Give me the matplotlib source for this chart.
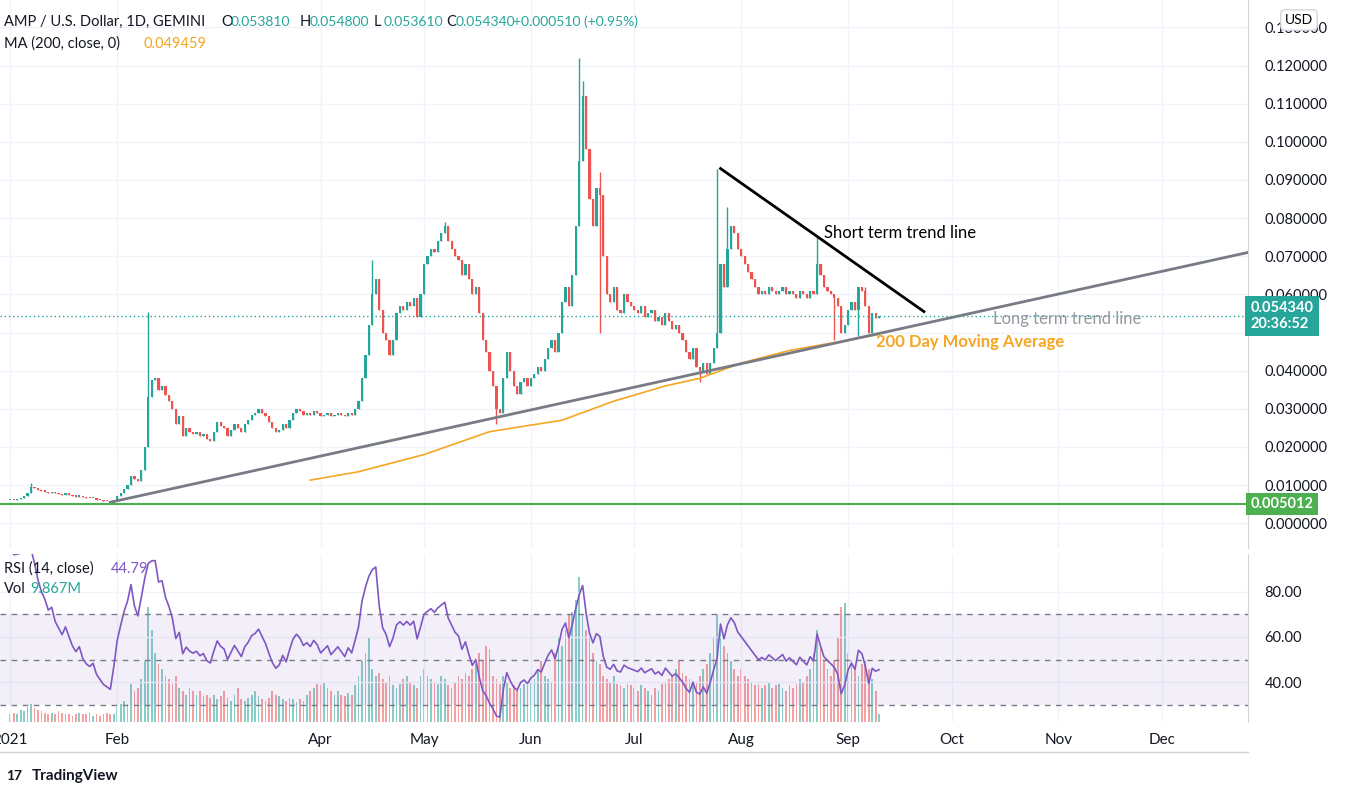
import numpy as np
import pandas as pd
import matplotlib
matplotlib.use("Agg")
import matplotlib.pyplot as plt
import matplotlib.dates as mdates

plt.rcParams["font.family"] = "Lato"

# ---- data ----
start = pd.Timestamp("2021-01-01")
closes = [
    # Jan
    0.0062, 0.0061, 0.0063, 0.0066, 0.0072, 0.0080, 0.0095, 0.0092, 0.0088, 0.0085,
    0.0083, 0.0080, 0.0082, 0.0078, 0.0076, 0.0074, 0.0078, 0.0075, 0.0072, 0.0070,
    0.0072, 0.0068, 0.0066, 0.0065, 0.0066, 0.0062, 0.0060, 0.0058, 0.0057, 0.0056,
    0.0062,
    # Feb
    0.0072, 0.0080, 0.0090, 0.0100, 0.0125, 0.0115, 0.0110, 0.0140, 0.0200, 0.0330,
    0.0375, 0.0380, 0.0350, 0.0360, 0.0335, 0.0320, 0.0300, 0.0260, 0.0280, 0.0230,
    0.0250, 0.0240, 0.0235, 0.0240, 0.0230, 0.0235, 0.0220, 0.0215,
    # Mar
    0.0240, 0.0265, 0.0255, 0.0250, 0.0230, 0.0245, 0.0260, 0.0250, 0.0240, 0.0260,
    0.0270, 0.0285, 0.0290, 0.0300, 0.0290, 0.0280, 0.0265, 0.0250, 0.0240, 0.0245,
    0.0260, 0.0250, 0.0270, 0.0290, 0.0300, 0.0295, 0.0285, 0.0290, 0.0285, 0.0295,
    0.0290,
    # Apr
    0.0280, 0.0285, 0.0290, 0.0280, 0.0285, 0.0290, 0.0285, 0.0280, 0.0290, 0.0285,
    0.0300, 0.0320, 0.0380, 0.0440, 0.0520, 0.0600, 0.0640, 0.0560, 0.0500, 0.0480,
    0.0440, 0.0480, 0.0550, 0.0570, 0.0560, 0.0580, 0.0570, 0.0590, 0.0540, 0.0600,
    # May
    0.0680, 0.0700, 0.0720, 0.0710, 0.0740, 0.0760, 0.0780, 0.0740, 0.0720, 0.0700,
    0.0690, 0.0650, 0.0680, 0.0640, 0.0600, 0.0620, 0.0550, 0.0480, 0.0450, 0.0400,
    0.0360, 0.0300, 0.0290, 0.0380, 0.0450, 0.0400, 0.0360, 0.0340, 0.0370, 0.0380,
    0.0360,
    # Jun
    0.0380, 0.0390, 0.0410, 0.0400, 0.0430, 0.0460, 0.0480, 0.0450, 0.0500, 0.0580,
    0.0620, 0.0570, 0.0650, 0.0780, 0.0950, 0.1120, 0.0980, 0.0850, 0.0780, 0.0880,
    0.0860, 0.0700, 0.0600, 0.0580, 0.0620, 0.0560, 0.0550, 0.0600, 0.0580, 0.0570,
    # Jul
    0.0560, 0.0550, 0.0570, 0.0540, 0.0550, 0.0560, 0.0530, 0.0540, 0.0520, 0.0550,
    0.0530, 0.0510, 0.0520, 0.0500, 0.0480, 0.0450, 0.0430, 0.0460, 0.0410, 0.0400,
    0.0420, 0.0390, 0.0420, 0.0460, 0.0500, 0.0680, 0.0620, 0.0720, 0.0780, 0.0760,
    0.0720,
    # Aug
    0.0700, 0.0680, 0.0660, 0.0640, 0.0620, 0.0600, 0.0610, 0.0600, 0.0620, 0.0610,
    0.0600, 0.0610, 0.0620, 0.0600, 0.0610, 0.0600, 0.0590, 0.0610, 0.0600, 0.0590,
    0.0610, 0.0600, 0.0680, 0.0650, 0.0620, 0.0610, 0.0600, 0.0590, 0.0570, 0.0500,
    0.0520,
    # Sep
    0.0560, 0.0580, 0.0560, 0.0620, 0.0610, 0.0570, 0.0500, 0.0550, 0.0538, 0.0543,
]
first_open = 0.0060

# notable wicks (day index -> price)
wick_highs = {6: 0.0105, 40: 0.0555, 105: 0.069, 126: 0.079, 165: 0.122, 166: 0.116,
              171: 0.092, 205: 0.093, 208: 0.083, 234: 0.075, 248: 0.062}
wick_lows = {141: 0.026, 171: 0.050, 200: 0.037, 239: 0.048, 246: 0.049}

volumes = [
    5, 6, 5, 8, 7, 10, 12, 9, 8, 7, 6, 5, 6, 5, 7, 6, 5, 5, 4, 5, 6, 5, 5, 6, 4, 5, 4, 5, 6, 5, 5,
    10, 12, 14, 12, 25, 20, 22, 28, 40, 75, 60, 45, 38, 35, 30, 28, 25, 30, 22, 20,
    18, 22, 20, 18, 20, 17, 18, 16,
    18, 15, 17, 20, 16, 14, 18, 22, 15, 14, 16, 18, 20, 17, 15, 14, 16, 20, 18, 17,
    15, 14, 16, 15, 13, 15, 14, 18, 20, 22, 25,
    24, 26, 22, 20, 18, 20, 18, 17, 19, 18, 24, 30, 40, 45, 55, 35, 30, 32, 28, 26,
    30, 24, 22, 25, 28, 30, 26, 24, 22, 30,
    35, 30, 28, 26, 25, 30, 28, 24, 22, 26, 30, 28, 32, 30, 35, 38, 45, 40, 50, 48,
    30, 28, 25, 30, 26, 22, 24, 20, 22, 25, 24,
    26, 28, 35, 40, 30, 28, 26, 45, 55, 50, 60, 70, 72, 80, 95, 70, 60, 55, 45, 40,
    38, 30, 28, 26, 30, 25, 24, 22, 25, 24,
    22, 20, 24, 22, 20, 18, 22, 20, 25, 26, 28, 30, 35, 40, 32, 30, 28, 25, 26, 30,
    35, 38, 45, 55, 70, 60, 50, 45, 40, 35, 30,
    35, 30, 28, 26, 24, 25, 22, 24, 26, 22, 24, 25, 22, 20, 24, 22, 25, 28, 26, 30,
    35, 45, 60, 50, 40, 35, 30, 40, 55, 75, 78,
    45, 40, 35, 30, 38, 40, 35, 28, 20, 5,
]

ma_dates = ["2021-03-29", "2021-04-12", "2021-05-01", "2021-05-20", "2021-06-10",
            "2021-06-25", "2021-07-10", "2021-07-20", "2021-08-01", "2021-08-15",
            "2021-09-01", "2021-09-10"]
ma_values = [0.0113, 0.0135, 0.0180, 0.0240, 0.0270, 0.0320, 0.0360, 0.0380,
             0.0420, 0.0453, 0.0480, 0.0495]

long_trend = (("2021-01-30", 0.0055), ("2021-12-27", 0.0712))
short_trend = (("2021-07-26", 0.0930), ("2021-09-23", 0.0555))
support = 0.005012
last_price = 0.054340
rsi_last = "44.79"

month_ticks = ["2021-01-01", "2021-02-01", "2021-04-01", "2021-05-01", "2021-06-01",
               "2021-07-01", "2021-08-01", "2021-09-01", "2021-10-01", "2021-11-01",
               "2021-12-01"]
month_labels = ["2021", "Feb", "Apr", "May", "Jun", "Jul", "Aug", "Sep", "Oct", "Nov", "Dec"]

UP, DOWN = "#26a69a", "#ef5350"
GRID = "#f0f3fa"

# ---- derived series ----
closes = np.array(closes)
opens = np.concatenate([[first_open], closes[:-1]])
highs = np.maximum(opens, closes)
lows = np.minimum(opens, closes)
for k, v in wick_highs.items():
    highs[k] = max(highs[k], v)
for k, v in wick_lows.items():
    lows[k] = min(lows[k], v)
dates = pd.date_range(start, periods=len(closes), freq="D")
x = mdates.date2num(dates)
up = closes >= opens

# RSI 14 (Wilder)
delta = np.diff(closes, prepend=first_open)
gain = pd.Series(np.clip(delta, 0, None)).ewm(alpha=1 / 14, adjust=False).mean()
loss = pd.Series(np.clip(-delta, 0, None)).ewm(alpha=1 / 14, adjust=False).mean()
rsi = 100 - 100 / (1 + gain / loss.replace(0, 1e-9))

# ---- figure ----
fig = plt.figure(figsize=(13.46, 7.98), dpi=100)
right = 1248 / 1346
ax = fig.add_axes([0, 250 / 798, right, 548 / 798])
ax2 = fig.add_axes([0, 76 / 798, right, 168 / 798])

xmin = mdates.date2num(pd.Timestamp("2020-12-29"))
xmax = mdates.date2num(pd.Timestamp("2021-12-26"))

for a in (ax, ax2):
    a.set_xlim(xmin, xmax)
    for s in ("top", "left", "bottom"):
        a.spines[s].set_visible(False)
    a.spines["right"].set_color("#d1d4dc")
    a.set_xticks(mdates.date2num(pd.to_datetime(month_ticks)))
    a.grid(True, color=GRID, lw=1)
    a.set_axisbelow(True)
    a.tick_params(length=0)

# candles
colors = np.where(up, UP, DOWN)
ax.vlines(x, lows, highs, colors=colors, lw=1)
ax.bar(x, np.abs(closes - opens).clip(min=0.0003), bottom=np.minimum(opens, closes),
       width=0.65, color=colors, linewidth=0)

yt = np.arange(0, 0.131, 0.01)
ax.set_ylim(-0.0065, 0.1372)
ax.set_yticks(yt)
ax.yaxis.tick_right()
ax.set_yticklabels(["" if abs(v - 0.05) < 1e-6 else f"{v:.6f}" for v in yt],
                   fontsize=10.5, color="#131722")
ax.tick_params(axis="y", pad=12)
ax.set_xticklabels([])

# MA, trend lines, levels
ax.plot(mdates.date2num(pd.to_datetime(ma_dates)), ma_values, color="#f5a623", lw=1.2)
ax.plot(mdates.date2num(pd.to_datetime([p[0] for p in long_trend])),
        [p[1] for p in long_trend], color="#787b86", lw=2)
ax.plot(mdates.date2num(pd.to_datetime([p[0] for p in short_trend])),
        [p[1] for p in short_trend], color="black", lw=2)
ax.axhline(support, color="#4caf50", lw=1.5)
ax.axhline(last_price, color=UP, lw=1, ls=(0, (1, 2)))

ax.text(mdates.date2num(pd.Timestamp("2021-08-25")), 0.0740, "Short term trend line",
        fontsize=12, color="black", va="bottom")
ax.text(mdates.date2num(pd.Timestamp("2021-10-13")), 0.0535, "Long term trend line",
        fontsize=12, color="#9598a1", va="center")
ax.text(mdates.date2num(pd.Timestamp("2021-09-09")), 0.0475, "200 Day Moving Average",
        fontsize=12, color="#f5a623", va="center", fontweight="bold")

# price labels on axis
ax.text(1.002, (last_price + 0.0065) / 0.1437, f"{last_price:.6f}\n20:36:52",
        transform=ax.transAxes, fontsize=10.5, color="white", va="center", ha="left",
        fontweight="bold", linespacing=1.2,
        bbox=dict(boxstyle="square,pad=0.35", fc=UP, ec="none"))
ax.text(1.002, (support + 0.0065) / 0.1437, f"{support:.6f}", transform=ax.transAxes,
        fontsize=10.5, color="white", va="center", ha="left", fontweight="bold",
        bbox=dict(boxstyle="square,pad=0.3", fc="#4caf50", ec="none"))
fig.text(1299 / 1346, 1 - 20 / 798, "USD", fontsize=10, ha="center", va="center",
         bbox=dict(boxstyle="round,pad=0.3", fc="white", ec="#d1d4dc"))

# RSI panel
ax2.set_ylim(22.5, 96.6)
ax2.axhspan(30, 70, color="#7e57c2", alpha=0.09, lw=0)
for lvl in (30, 50, 70):
    ax2.axhline(lvl, color="#787b86", lw=1, ls=(0, (4, 4)))
vax = ax2.twinx()
vax.set_ylim(0, 110)
vax.bar(x, volumes, width=0.5, color=colors, alpha=0.55, linewidth=0)
vax.set_yticks([])
for s in vax.spines.values():
    s.set_visible(False)
ax2.set_zorder(vax.get_zorder() + 1)
ax2.patch.set_visible(False)
ax2.plot(x, rsi, color="#7e57c2", lw=1.2)
ax2.yaxis.tick_right()
ax2.set_yticks([40, 60, 80])
ax2.set_yticklabels(["40.00", "60.00", "80.00"], fontsize=10.5, color="#131722")
ax2.tick_params(axis="y", pad=12)
ax2.set_xticklabels(month_labels, fontsize=11, color="#131722")
ax2.tick_params(axis="x", pad=8)


# header
def seg(px, py, s, c, size=10.5):
    return fig.text(px / 1346, 1 - py / 798, s, fontsize=size, color=c, va="center")


seg(4, 22, "AMP / U.S. Dollar, 1D, GEMINI", "#131722")
for px, lab, val in [(221, "O", "0.053810"), (300, "H", "0.054800"),
                     (374, "L", "0.053610"), (446, "C", "0.054340")]:
    seg(px, 22, lab, "#131722")
    seg(px + 10, 22, val, UP, 10)
seg(513, 22, "+0.000510 (+0.95%)", UP, 10)
seg(4, 44, "MA (200, close, 0)", "#131722")
seg(144, 44, "0.049459", "#f5a623")
seg(4, 569, "RSI (14, close)", "#131722")
seg(111, 569, rsi_last, "#7e57c2")
seg(4, 589, "Vol", "#131722")
seg(30, 589, "9.867M", UP)
fig.text(32 / 1346, 1 - 776 / 798, "TradingView", fontsize=11, color="#131722",
         va="center", fontweight="bold")
fig.text(6 / 1346, 1 - 776 / 798, "17", fontsize=10, color="#131722",
         va="center", fontweight="bold")
fig.add_artist(plt.Line2D([0, right], [1 - 752 / 798] * 2, color="#d1d4dc", lw=1))

fig.savefig("out.png", dpi=100)
